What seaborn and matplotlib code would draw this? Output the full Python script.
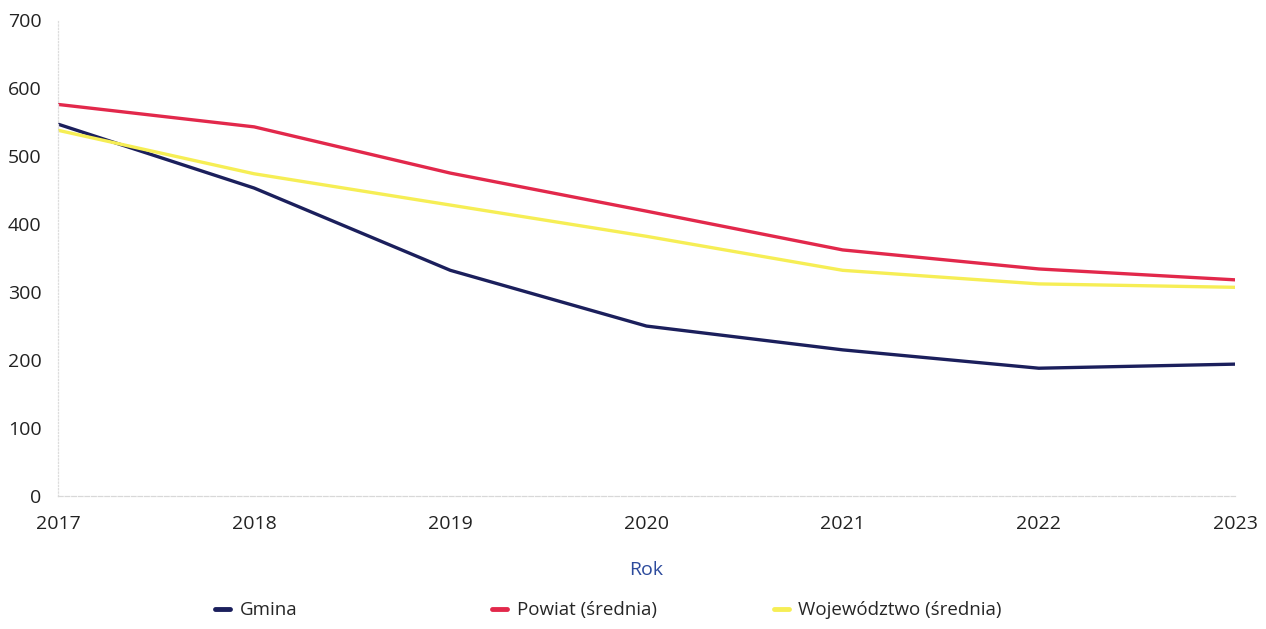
import numpy as np
import pandas as pd
import matplotlib
matplotlib.use("Agg")
import matplotlib.pyplot as plt
import seaborn as sns

years = [2017, 2018, 2019, 2020, 2021, 2022, 2023]
gmina = [547, 453, 332, 250, 215, 188, 194]
powiat = [576, 543, 475, 419, 362, 334, 318]
wojewodztwo = [538, 474, 428, 382, 332, 312, 307]

series_names = ["Gmina", "Powiat (średnia)", "Województwo (średnia)"]
colors = ["#1b1f5c", "#e2284b", "#f6ee55"]

df = pd.DataFrame({
    "Rok": years * 3,
    "value": gmina + powiat + wojewodztwo,
    "series": [s for s in series_names for _ in years],
})

sns.set_style("white")
plt.rcParams['font.family'] = ['Open Sans', 'DejaVu Sans']

fig = plt.figure(figsize=(12.66, 6.29), dpi=100)
ax = fig.add_axes([0.0458, 0.2114, 0.9297, 0.7566])

sns.lineplot(data=df, x="Rok", y="value", hue="series", hue_order=series_names,
             palette=colors, linewidth=2.4, ax=ax, legend=False)

ax.set_xlim(2017, 2023)
ax.set_ylim(0, 700)
ax.set_xticks(years)
ax.set_yticks(range(0, 701, 100))
ax.tick_params(axis="y", length=0, pad=12, labelsize=14, labelcolor="#222222")
ax.tick_params(axis="x", length=0, pad=14, labelsize=14, labelcolor="#222222")
ax.set_ylabel("")
ax.set_xlabel("Rok", fontsize=14, color="#2c4a9c", labelpad=20)

for side in ["top", "right"]:
    ax.spines[side].set_visible(False)
ax.spines["left"].set_color("#dddddd")
ax.spines["left"].set_linestyle(":")
ax.spines["left"].set_linewidth(0.9)
ax.spines["bottom"].set_color("#d8d8d8")
ax.spines["bottom"].set_linestyle("--")
ax.spines["bottom"].set_linewidth(0.9)

# separate legend entries, spaced evenly under the chart
lines = ax.get_lines()
xs = [0.170, 0.389, 0.611]
for line, name, x in zip(lines, series_names, xs):
    leg = fig.legend([line], [name], loc="center left", bbox_to_anchor=(x, 0.03),
                     frameon=False, fontsize=13.5, handlelength=0.8, handletextpad=0.5,
                     borderpad=0, borderaxespad=0)
    for h in leg.legend_handles:
        h.set_linewidth(3.5)

fig.savefig("out.png", dpi=100)
